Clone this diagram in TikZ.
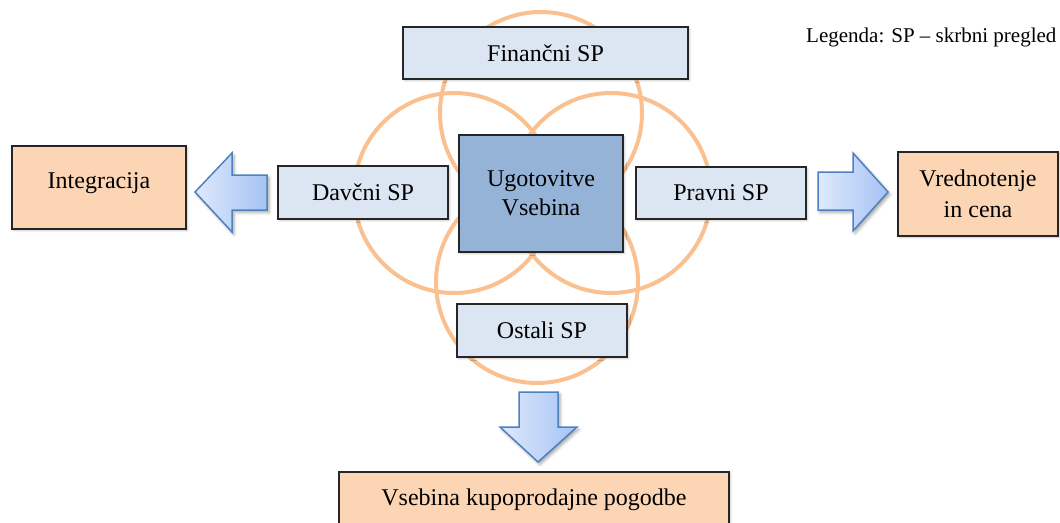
\documentclass[tikz,border=0pt]{standalone}
\usepackage{fontspec}
\setmainfont{Liberation Serif}
\usetikzlibrary{shadows.blur}
\definecolor{ringc}{RGB}{250,192,143}
\definecolor{spfill}{RGB}{220,230,242}
\definecolor{corefill}{RGB}{149,179,215}
\definecolor{peach}{RGB}{252,213,181}
\definecolor{arrline}{RGB}{79,129,189}
\definecolor{arrlight}{RGB}{222,233,252}
\definecolor{arrdark}{RGB}{166,195,244}
\begin{document}
\begin{tikzpicture}[x=1pt,y=-1pt,
  ring/.style={draw=ringc,line width=4pt},
  boxbase/.style={draw=black!85,line width=1.2pt,inner sep=0pt,align=center,
    font=\fontsize{24}{29}\selectfont,
    blur shadow={shadow xshift=1.5pt,shadow yshift=-1.5pt,shadow blur radius=2pt,shadow opacity=25}},
  spbox/.style={boxbase,fill=spfill},
  corebox/.style={boxbase,fill=corefill},
  peachbox/.style={boxbase,fill=peach},
  blockarrow/.style={draw=arrline,line width=1.5pt,line join=miter,left color=arrlight,right color=arrdark,
    blur shadow={shadow xshift=2pt,shadow yshift=-2.5pt,shadow blur radius=3pt,shadow opacity=35}}]
\useasboundingbox (0,0) rectangle (1060,522);

% rings
\draw[ring] (541,113) circle[radius=101];
\draw[ring] (454,193) circle[radius=100];
\draw[ring] (611,193) circle[radius=100];
\draw[ring] (537,282) circle[radius=101];

% boxes
\node[spbox,minimum width=285pt,minimum height=52pt] (fin) at (545.5,53) {Finančni SP};
\node[corebox,minimum width=164pt,minimum height=117pt] (core) at (541,193.5) {Ugotovitve\\Vsebina};
\node[spbox,minimum width=170pt,minimum height=53pt] (dav) at (363,192.5) {Davčni SP};
\node[spbox,minimum width=170pt,minimum height=52pt] (prav) at (721,193) {Pravni SP};
\node[spbox,minimum width=170pt,minimum height=53pt] (ost) at (542,330.5) {Ostali SP};
\node[peachbox,minimum width=174pt,minimum height=83pt,text height=12pt,text depth=11pt] (integ) at (99,187.5) {Integracija};
\node[peachbox,minimum width=160pt,minimum height=84pt,font=\fontsize{24}{31}\selectfont] (vred) at (978,194) {Vrednotenje\\in cena};
\node[peachbox,minimum width=390pt,minimum height=56pt] (pog) at (534,500) {Vsebina kupoprodajne pogodbe};

% block arrows
\path[blockarrow] (195,192) -- (232,153) -- (232,175) -- (267,175) -- (267,210) -- (232,210) -- (232,232) -- cycle;
\path[blockarrow] (818,172) -- (853,172) -- (853,153) -- (888,192) -- (853,231) -- (853,210) -- (818,210) -- cycle;
\path[blockarrow] (519,392) -- (558,392) -- (558,427) -- (577,427) -- (538,462) -- (500,427) -- (519,427) -- cycle;

% legend
\node[anchor=base west,inner sep=0pt,font=\fontsize{21}{25}\selectfont] (leg) at (806,42) {Legenda: SP – skrbni pregled};
\end{tikzpicture}
\end{document}
